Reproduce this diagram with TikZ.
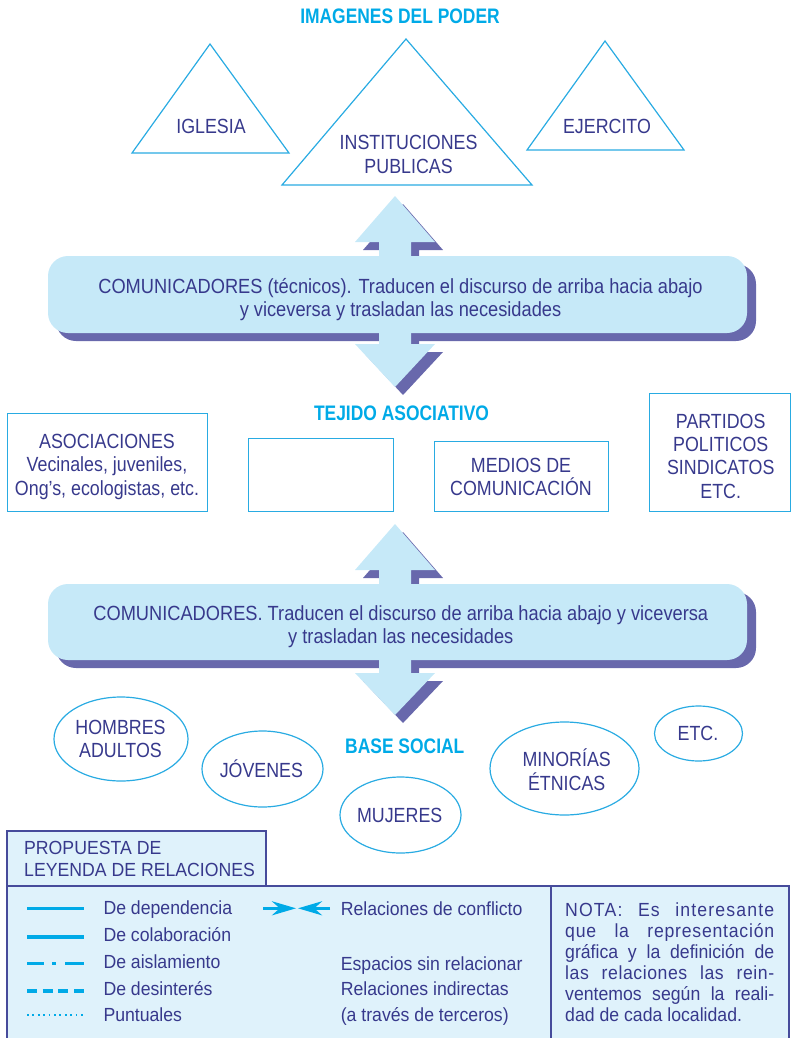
\documentclass[tikz,border=0pt]{standalone}
\usepackage{fontspec}
\setmainfont{Liberation Sans}
\newfontfamily\cf[FakeStretch=0.87]{Liberation Sans}
\newfontfamily\cfw[FakeStretch=0.89]{Liberation Sans}
\newfontfamily\cfb[FakeStretch=0.83]{Liberation Sans}
\newfontfamily\lf[FakeStretch=0.93]{Liberation Sans}
\usetikzlibrary{shapes.geometric,arrows.meta}
\definecolor{cy}{RGB}{0,170,231}
\definecolor{cyl}{RGB}{41,171,226}
\definecolor{navy}{RGB}{55,57,140}
\definecolor{lb}{RGB}{198,233,248}
\definecolor{shd}{RGB}{104,104,172}
\definecolor{lgf}{RGB}{223,242,251}
\definecolor{lgb}{RGB}{70,75,155}
\begin{document}
\begin{tikzpicture}[x=1pt,y=-1pt,
  txt/.style={text=navy, font=\cf\fontsize{20.5}{23.5}\selectfont, align=center, anchor=base, inner sep=0pt},
  ttl/.style={text=cy, font=\cfb\bfseries\fontsize{21}{24}\selectfont, anchor=base, inner sep=0pt},
  tri/.style={draw=cyl, line width=1.2pt, line join=miter},
  bx/.style={draw=cyl, line width=1.2pt, anchor=north west, inner sep=0pt},
  ell/.style={ellipse, draw=cyl, line width=1.2pt, inner sep=0pt},
  lt/.style={text=navy, font=\lf\fontsize{19}{22.4}\selectfont, align=left, anchor=base west, inner sep=0pt},
  lgline/.style={draw=cy, line width=3.2pt},
  comtext/.style={txt, font=\cfw\fontsize{20.5}{23}\selectfont}
]
\useasboundingbox (0,0) rectangle (792,1038);

% ---------- IMAGENES DEL PODER ----------
\node[ttl] (tit1) at (400,24) {IMAGENES DEL PODER};
\draw[tri] (132,153) -- (210,44) -- (289,153) -- cycle;
\draw[tri] (282,185) -- (406,39) -- (532,185) -- cycle;
\draw[tri] (527,150) -- (605,41) -- (684,150) -- cycle;
\node[txt] (iglesia) at (211,134) {IGLESIA};
\node[txt] (inst) at (408.6,173) {INSTITUCIONES\\PUBLICAS};
\node[txt] (ejer) at (607,134) {EJERCITO};

% ---------- first communicators block ----------
\fill[shd, rounded corners=20pt] (56,264) rectangle (756,341);
\fill[shd] (403,204) -- (443,250) -- (419,250) -- (419,352) -- (443,352) -- (403,395)
  -- (363,352) -- (387,352) -- (387,250) -- (363,250) -- cycle;
\fill[lb] (395,196) -- (435,242) -- (411,242) -- (411,344) -- (435,344) -- (395,387)
  -- (355,344) -- (379,344) -- (379,242) -- (355,242) -- cycle;
\fill[lb, rounded corners=20pt] (48,256) rectangle (747,333);
\node[comtext] (com1) at (400.5,316) {COMUNICADORES (técnicos). Traducen el discurso de arriba hacia abajo\\y viceversa y trasladan las necesidades};

% ---------- TEJIDO ASOCIATIVO ----------
\node[ttl] (tit2) at (401.5,420) {TEJIDO ASOCIATIVO};
\node[bx, minimum width=200pt, minimum height=98pt] (asocbox) at (7,413) {};
\node[txt] (asoc) at (107,495) {ASOCIACIONES\\Vecinales, juveniles,\\Ong’s, ecologistas, etc.};
\node[bx, minimum width=145.5pt, minimum height=73pt] (empty) at (247.5,438) {};
\node[bx, minimum width=173.5pt, minimum height=70pt] (medbox) at (434,441) {};
\node[txt] (medios) at (521,495.5) {MEDIOS DE\\COMUNICACIÓN};
\node[bx, minimum width=141pt, minimum height=118pt] (partbox) at (649,393) {};
\node[txt, font=\cf\fontsize{20.5}{23.3}\selectfont] (part) at (720.7,498) {PARTIDOS\\POLITICOS\\SINDICATOS\\ETC.};

% ---------- second communicators block ----------
\fill[shd, rounded corners=20pt] (56,592) rectangle (756,668);
\fill[shd] (403,532) -- (443,578) -- (419,578) -- (419,681) -- (443,681) -- (403,723)
  -- (363,681) -- (387,681) -- (387,578) -- (363,578) -- cycle;
\fill[lb] (395,524) -- (435,570) -- (411,570) -- (411,673) -- (435,673) -- (395,715)
  -- (355,673) -- (379,673) -- (379,570) -- (355,570) -- cycle;
\fill[lb, rounded corners=20pt] (48,584) rectangle (747,660);
\node[comtext] (com2) at (400.8,643) {COMUNICADORES. Traducen el discurso de arriba hacia abajo y viceversa\\y trasladan las necesidades};

% ---------- BASE SOCIAL ----------
\node[ttl] (tit3) at (404.8,753.3) {BASE SOCIAL};
\node[ell, minimum width=134pt, minimum height=84pt] (homell) at (121,739) {};
\node[txt] (hom) at (120.5,757.7) {HOMBRES\\ADULTOS};
\node[ell, minimum width=121pt, minimum height=76pt] (jovell) at (262.5,769) {};
\node[txt] (jov) at (261.4,777.3) {JÓVENES};
\node[ell, minimum width=121pt, minimum height=76pt] (mujell) at (400.5,815) {};
\node[txt] (muj) at (399.7,822.7) {MUJERES};
\node[ell, minimum width=149pt, minimum height=93pt] (minell) at (564.5,768.5) {};
\node[txt] (min) at (566.7,790) {MINORÍAS\\ÉTNICAS};
\node[ell, minimum width=88pt, minimum height=55pt] (etcell) at (698.5,733.5) {};
\node[txt] (etc) at (698,740) {ETC.};

% ---------- legend ----------
\filldraw[fill=lgf, draw=lgb, line width=1.5pt] (7,886) rectangle (789,1046);
\filldraw[fill=lgf, draw=lgb, line width=1.5pt] (7,831) rectangle (266,886);
\draw[lgb, line width=1.5pt] (551,886) -- (551,1046);
\node[lt] (legtit) at (24,876.7) {PROPUESTA DE\\LEYENDA DE RELACIONES};

\draw[lgline] (27,908.3) -- (84,908.3);
\draw[lgline, line width=3.6pt] (27,936.7) -- (84,936.7);
\draw[lgline, dash pattern=on 17pt off 8pt on 4pt off 9pt on 30pt off 10pt] (27,963.3) -- (84,963.3);
\draw[lgline, dash pattern=on 10pt off 5.67pt] (27,991) -- (84,991);
\draw[lgline, line width=2.2pt, dash pattern=on 1.8pt off 3.6pt] (27,1015) -- (83,1015);
\node[lt, font=\lf\fontsize{19}{26.7}\selectfont] (legl) at (103.3,1021.7) {De dependencia\\De colaboración\\De aislamiento\\De desinterés\\Puntuales};

\draw[lgline, -{Stealth[length=24pt,width=14pt]}] (263,908.3) -- (296,908.3);
\draw[lgline, -{Stealth[length=24pt,width=14pt]}] (330,908.3) -- (298,908.3);
\node[lt] (conf) at (340.6,915) {Relaciones de conflicto};
\node[lt, font=\lf\fontsize{19}{25.7}\selectfont] (esp) at (340.6,1021.4) {Espacios sin relacionar\\Relaciones indirectas\\(a través de terceros)};

\node[lt] (nota) at (565,916.7) {\parbox[t]{209pt}{\fontsize{19}{21}\selectfont {\addfontfeatures{LetterSpace=6}NOTA: Es interesante}\linebreak {\addfontfeatures{LetterSpace=4}que la representación}\linebreak gráfica y la definición de\linebreak {\addfontfeatures{LetterSpace=3}las relaciones las rein-}\linebreak ventemos según la reali-\linebreak dad de cada localidad.}};
\end{tikzpicture}
\end{document}
